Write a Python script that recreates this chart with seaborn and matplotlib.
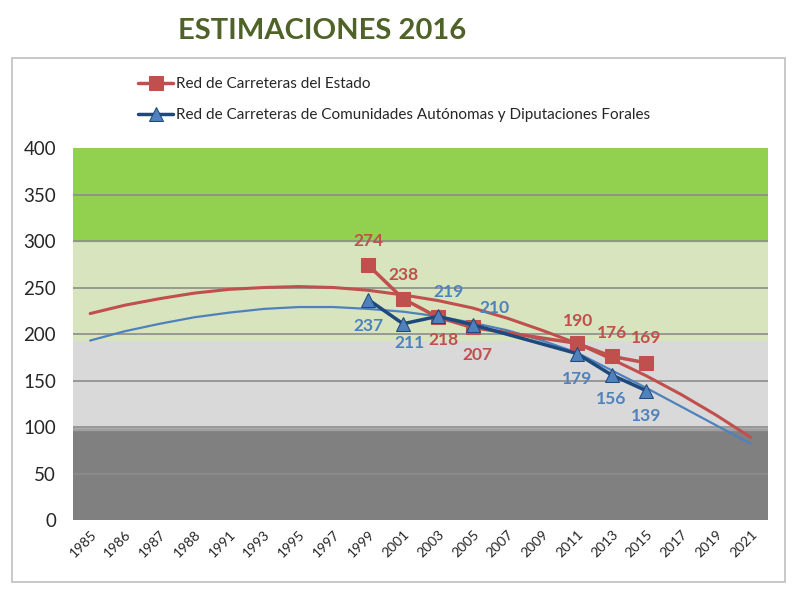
import numpy as np
import pandas as pd
import matplotlib
matplotlib.use("Agg")
import matplotlib.pyplot as plt
import seaborn as sns
from matplotlib.patches import Rectangle

# ==================== DATOS ====================
years = ['1985', '1986', '1987', '1988', '1991', '1993', '1995', '1997', '1999', '2001',
         '2003', '2005', '2007', '2009', '2011', '2013', '2015', '2017', '2019', '2021']
obs_years = ['1999', '2001', '2003', '2005', '2011', '2013', '2015']
estado = [274, 238, 218, 207, 190, 176, 169]
ccaa = [237, 211, 219, 210, 179, 156, 139]
# tendencias (una por categoria)
trend_estado = [222, 231, 238, 244, 248, 250, 251, 250, 247, 242,
                236, 228, 217, 204, 190, 173, 155, 135, 113, 89]
trend_ccaa = [193, 203, 211, 218, 223, 227, 229, 229, 227, 224,
              219, 212, 204, 193, 180, 161, 142, 122, 102, 82]

LBL_ESTADO = 'Red de Carreteras del Estado'
LBL_CCAA = 'Red de Carreteras de Comunidades Autónomas y Diputaciones Forales'

RED = '#C0504D'
BLUE = '#4F81BD'
DARKBLUE = '#1F497D'

pos = {y: i for i, y in enumerate(years)}
df = pd.DataFrame({
    'x': [pos[y] for y in obs_years] * 2,
    'valor': estado + ccaa,
    'serie': [LBL_ESTADO] * len(estado) + [LBL_CCAA] * len(ccaa),
})
df_trend = pd.DataFrame({
    'x': list(range(len(years))) * 2,
    'valor': trend_estado + trend_ccaa,
    'serie': ['te'] * len(years) + ['tc'] * len(years),
})

sns.set_style('white')
plt.rcParams['font.family'] = ['Lato', 'DejaVu Sans']

fig = plt.figure(figsize=(8, 5.92), dpi=100)
ax = fig.add_axes([0.091, 0.1216, 0.869, 0.6284])

# bandas de fondo
ax.axhspan(0, 97, color='#808080', zorder=0)
ax.axhspan(97, 100, color='#a0a0a0', zorder=0)
ax.axhspan(100, 194, color='#d9d9d9', zorder=0)
ax.axhspan(194, 300, color='#d7e4bd', zorder=0)
ax.axhspan(300, 400, color='#92d050', zorder=0)
for g in [50, 100, 150, 200, 250, 300, 350]:
    ax.axhline(g, color='#8c8c8c', lw=1.2, zorder=1)

# tendencias
sns.lineplot(data=df_trend, x='x', y='valor', hue='serie',
             palette={'te': RED, 'tc': BLUE}, legend=False, ax=ax, zorder=2)
ax.lines[-2].set_linewidth(2.2)
ax.lines[-1].set_linewidth(1.6)

# series
sub_e = df[df.serie == LBL_ESTADO]
sub_c = df[df.serie == LBL_CCAA]
sns.lineplot(data=sub_e, x='x', y='valor', color=RED, marker='s', markersize=10,
             markeredgecolor=RED, lw=2.5, ax=ax, label=LBL_ESTADO, zorder=3)
sns.lineplot(data=sub_c, x='x', y='valor', color=DARKBLUE, marker='^', markersize=10,
             markerfacecolor=BLUE, markeredgecolor=DARKBLUE, lw=2.5, ax=ax,
             label=LBL_CCAA, zorder=4)

# etiquetas de datos (desplazamiento en pixeles)
off_e = [(0, 24), (0, 24), (6, -23), (5, -28), (1, 22), (0, 23), (0, 25)]
off_c = [(0, -26), (6, -19), (11, 24), (22, 17), (0, -25), (0, -24), (0, -25)]
for (x, v), (dx, dy) in zip(zip(sub_e.x, sub_e.valor), off_e):
    ax.annotate(str(v), (x, v), xytext=(dx, dy), textcoords='offset pixels',
                ha='center', va='center', color=RED, fontsize=12.5, fontweight='bold')
for (x, v), (dx, dy) in zip(zip(sub_c.x, sub_c.valor), off_c):
    ax.annotate(str(v), (x, v), xytext=(dx, dy), textcoords='offset pixels',
                ha='center', va='center', color=BLUE, fontsize=12.5, fontweight='bold')

ax.set_xlim(-0.5, len(years) - 0.5)
ax.set_ylim(0, 400)
ax.set_xticks(range(len(years)))
ax.set_xticklabels(years, rotation=45, ha='right', rotation_mode='anchor', fontsize=10)
ax.set_yticks(range(0, 401, 50))
ax.tick_params(axis='y', labelsize=13.5, pad=12, length=0)
ax.tick_params(axis='x', pad=6, length=0)
ax.set_xlabel('')
ax.set_ylabel('')
for s in ax.spines.values():
    s.set_visible(False)

leg = ax.legend(loc='upper left', bbox_to_anchor=(0.085, 1.207), frameon=False,
                fontsize=11, handlelength=2.3, labelspacing=1.12, borderaxespad=0,
                handletextpad=0.2)

# marco del grafico
fig.patches.append(Rectangle((0.015, 0.017), 0.966, 0.885, transform=fig.transFigure,
                             fill=False, edgecolor='#bfbfbf', lw=1.2))

# titulo
fig.text(0.403, 0.948, 'ESTIMACIONES 2016', ha='center', va='center',
         fontsize=21, fontweight='bold', color='#4F6228')

fig.savefig('out.png', dpi=100)
